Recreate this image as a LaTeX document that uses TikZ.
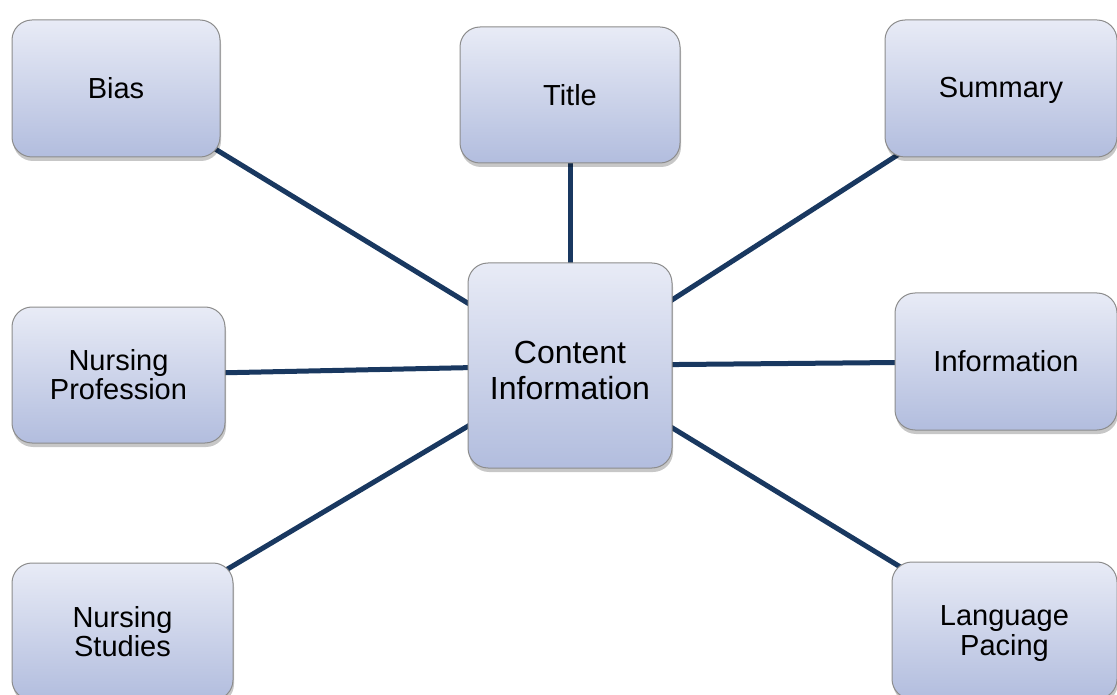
\documentclass[tikz,border=0pt]{standalone}
\usepackage{fontspec}
\setmainfont{Liberation Sans}
\usetikzlibrary{shadows,backgrounds}
\definecolor{boxtop}{RGB}{232,235,246}
\definecolor{boxbot}{RGB}{178,189,222}
\definecolor{boxline}{RGB}{140,140,140}
\definecolor{link}{RGB}{25,56,96}
\newcommand{\lowered}[2]{\raisebox{#1}[\height][\depth]{\begin{tabular}{@{}c@{}}#2\end{tabular}}}
\tikzset{
  topic/.style={draw=boxline, line width=1pt, rounded corners=20pt,
    top color=boxtop, bottom color=boxbot, align=center,
    font=\fontsize{29}{29}\selectfont, inner sep=0pt,
    drop shadow={shadow xshift=1pt, shadow yshift=-4pt, fill=black, opacity=0.22}},
  hub/.style={topic, font=\fontsize{32}{35.5}\selectfont},
  linkline/.style={draw=link, line width=5pt}
}
\begin{document}
\begin{tikzpicture}[x=1pt,y=-1pt]
\useasboundingbox (0,0) rectangle (1117,695);
\node[topic, minimum width=208pt, minimum height=137pt] (bias) at (116,88.5) {Bias};
\node[topic, minimum width=220pt, minimum height=136pt] (title) at (570,95) {Title};
\node[topic, minimum width=232pt, minimum height=137pt] (summary) at (1001,88.5) {\lowered{-3pt}{Summary}};
\node[topic, minimum width=213pt, minimum height=136pt] (nprof) at (118.5,375) {Nursing\\Profession};
\node[hub, minimum width=204pt, minimum height=205pt] (content) at (570,365.5) {\lowered{-9pt}{Content\\Information}};
\node[topic, minimum width=222pt, minimum height=137pt] (info) at (1006,361.5) {Information};
\node[topic, minimum width=221pt, minimum height=137pt] (nstud) at (122.5,631.5) {Nursing\\Studies};
\node[topic, minimum width=225pt, minimum height=137pt] (lang) at (1004.5,630.5) {\lowered{-4pt}{Language\\Pacing}};
\begin{scope}[on background layer]
\draw[linkline] (bias.center) -- (content.center);
\draw[linkline] (title.center) -- (content.center);
\draw[linkline] (summary.center) -- (content.center);
\draw[linkline] (nprof.center) -- (content.center);
\draw[linkline] (info.center) -- (content.center);
\draw[linkline] (nstud.center) -- (content.center);
\draw[linkline] (lang.center) -- (content.center);
\end{scope}
\end{tikzpicture}
\end{document}
